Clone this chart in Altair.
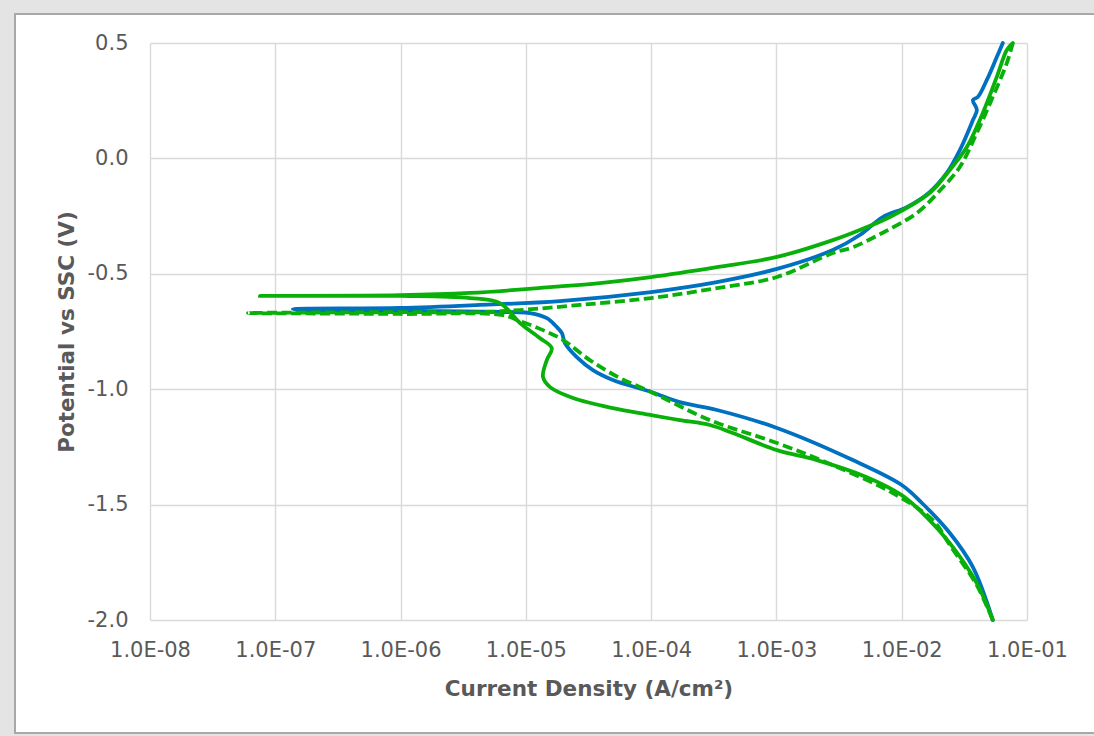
import altair as alt
import pandas as pd

# ---- data (scan order: cathodic -> Ecorr -> anodic) ----
blue_i = [5.33e-2, 3.70e-2, 2.42e-2, 1.45e-2, 1.00e-2, 4.07e-3, 1.01e-3, 3.35e-4, 1.69e-4, 1.00e-4,
          4.95e-5, 3.43e-5, 2.55e-5, 2.05e-5, 1.94e-5, 1.77e-5, 1.47e-5, 1.08e-5, 7.89e-6, 9.89e-7,
          1.57e-7, 1.38e-7,
          9.89e-7, 4.30e-6, 1.87e-5, 1.00e-4, 3.35e-4, 1.01e-3, 2.82e-3, 4.63e-3, 7.06e-3, 1.10e-2,
          1.67e-2, 2.29e-2, 2.91e-2, 3.70e-2, 3.98e-2, 3.70e-2, 4.05e-2, 4.78e-2, 5.74e-2, 6.41e-2]
blue_v = [-2.000, -1.771, -1.623, -1.493, -1.415, -1.307, -1.168, -1.090, -1.056, -1.012,
          -0.960, -0.917, -0.861, -0.800, -0.757, -0.731, -0.692, -0.670, -0.666, -0.661,
          -0.657, -0.653,
          -0.648, -0.635, -0.618, -0.579, -0.536, -0.479, -0.397, -0.332, -0.254, -0.211,
          -0.146, -0.063, 0.036, 0.166, 0.210, 0.253, 0.266, 0.340, 0.439, 0.500]

green_i = [5.33e-2, 3.97e-2, 2.42e-2, 1.58e-2, 1.00e-2, 5.27e-3, 2.10e-3, 1.01e-3, 4.49e-4, 2.94e-4,
           1.69e-4, 1.00e-4, 4.95e-5, 2.38e-5, 1.56e-5, 1.37e-5, 1.47e-5, 1.61e-5, 1.29e-5, 8.97e-6,
           6.21e-6, 3.58e-6, 9.89e-7, 1.57e-7, 7.55e-8,
           9.89e-7, 3.58e-6, 1.64e-5, 3.90e-5, 1.00e-4, 3.35e-4, 1.01e-3, 2.82e-3, 4.63e-3, 8.04e-3,
           1.67e-2, 2.42e-2, 3.31e-2, 4.44e-2, 5.74e-2, 6.90e-2, 7.71e-2]
green_v = [-2.000, -1.840, -1.667, -1.554, -1.459, -1.381, -1.307, -1.264, -1.190, -1.155,
           -1.134, -1.112, -1.082, -1.038, -0.991, -0.947, -0.874, -0.822, -0.778, -0.713,
           -0.627, -0.605, -0.596, -0.596, -0.596,
           -0.593, -0.583, -0.557, -0.540, -0.514, -0.471, -0.427, -0.354, -0.310, -0.254,
           -0.150, -0.050, 0.049, 0.197, 0.353, 0.470, 0.500]

dash_i = [5.33e-2, 3.97e-2, 2.42e-2, 1.77e-2, 8.49e-3, 2.82e-3, 1.01e-3, 2.94e-4, 1.00e-4, 5.64e-5,
          3.24e-5, 1.98e-5, 1.37e-5, 8.97e-6, 6.56e-6, 9.89e-7, 6.05e-8,
          9.89e-7, 4.30e-6, 8.97e-6, 2.70e-5, 1.00e-4, 3.35e-4, 1.01e-3, 2.82e-3, 4.07e-3, 7.06e-3,
          1.32e-2, 2.01e-2, 2.91e-2, 3.97e-2, 5.33e-2, 6.90e-2, 7.71e-2]
dash_v = [-2.000, -1.849, -1.675, -1.567, -1.450, -1.329, -1.233, -1.134, -1.012, -0.952,
          -0.874, -0.787, -0.744, -0.705, -0.679, -0.674, -0.670,
          -0.666, -0.666, -0.657, -0.635, -0.605, -0.562, -0.514, -0.410, -0.385, -0.322,
          -0.237, -0.140, -0.037, 0.110, 0.266, 0.413, 0.500]

x_ticks = [1e-8, 1e-7, 1e-6, 1e-5, 1e-4, 1e-3, 1e-2, 1e-1]
y_ticks = [-2.0, -1.5, -1.0, -0.5, 0.0, 0.5]

BLUE = "#0070C0"
GREEN = "#0AB00A"
TEXT = "#595959"
FONT = "DejaVu Sans"


def frame(i, v):
    return pd.DataFrame({"i": i, "v": v, "k": range(len(i))})


xenc = alt.X("i:Q",
             scale=alt.Scale(type="log", domain=[1e-8, 1e-1], nice=False),
             axis=alt.Axis(values=x_ticks,
                           labelExpr="'1.0E-0' + round(-log(datum.value)/LN10)",
                           title="Current Density (A/cm²)",
                           labelFlush=False, labelOverlap=False,
                           labelPadding=19, titlePadding=18))
yenc = alt.Y("v:Q",
             scale=alt.Scale(domain=[-2.0, 0.5], nice=False, zero=False),
             axis=alt.Axis(values=y_ticks,
                           labelExpr="replace(format(datum.value, '.1f'), '\u2212', '-')",
                           title="Potential vs SSC (V)",
                           labelFlush=False, labelOverlap=False,
                           labelPadding=22, titlePadding=9))

one = pd.DataFrame({"a": [0]})
# decorative chart-frame shadow (outside the plot area)
shadow = alt.Chart(one).mark_rect(
    fillOpacity=0, stroke="#e4e4e4", strokeWidth=14
).encode(x=alt.value(-143), x2=alt.value(951), y=alt.value(-36), y2=alt.value(697))
edge = alt.Chart(one).mark_rect(
    fillOpacity=0, stroke="#a8a8a8", strokeWidth=2
).encode(x=alt.value(-135), x2=alt.value(950), y=alt.value(-29), y2=alt.value(690))


def line(df, color, dash=None):
    kw = dict(color=color, strokeWidth=3.8, interpolate="catmull-rom", strokeCap="round")
    if dash:
        kw["strokeDash"] = dash
        kw["strokeCap"] = "butt"
    return alt.Chart(df).mark_line(**kw).encode(x=xenc, y=yenc, order="k:Q")


chart = alt.layer(
    line(frame(blue_i, blue_v), BLUE),
    line(frame(green_i, green_v), GREEN),
    line(frame(dash_i, dash_v), GREEN, [10, 4.5]),
    shadow,
    edge,
).properties(
    width=877, height=577,
    autosize=alt.AutoSizeParams(type="none"),
    padding={"left": 150, "top": 43, "right": 67, "bottom": 116},
    background="white",
).configure_view(
    stroke=None
).configure_axis(
    grid=True, gridColor="#d9d9d9", gridWidth=1.4,
    domain=False, ticks=False,
    labelFont=FONT, labelFontSize=21, labelColor=TEXT,
    titleFont=FONT, titleFontSize=21.5, titleFontWeight="bold", titleColor=TEXT,
)

chart.save("out.html", embed_options={"renderer": "svg", "actions": False})
